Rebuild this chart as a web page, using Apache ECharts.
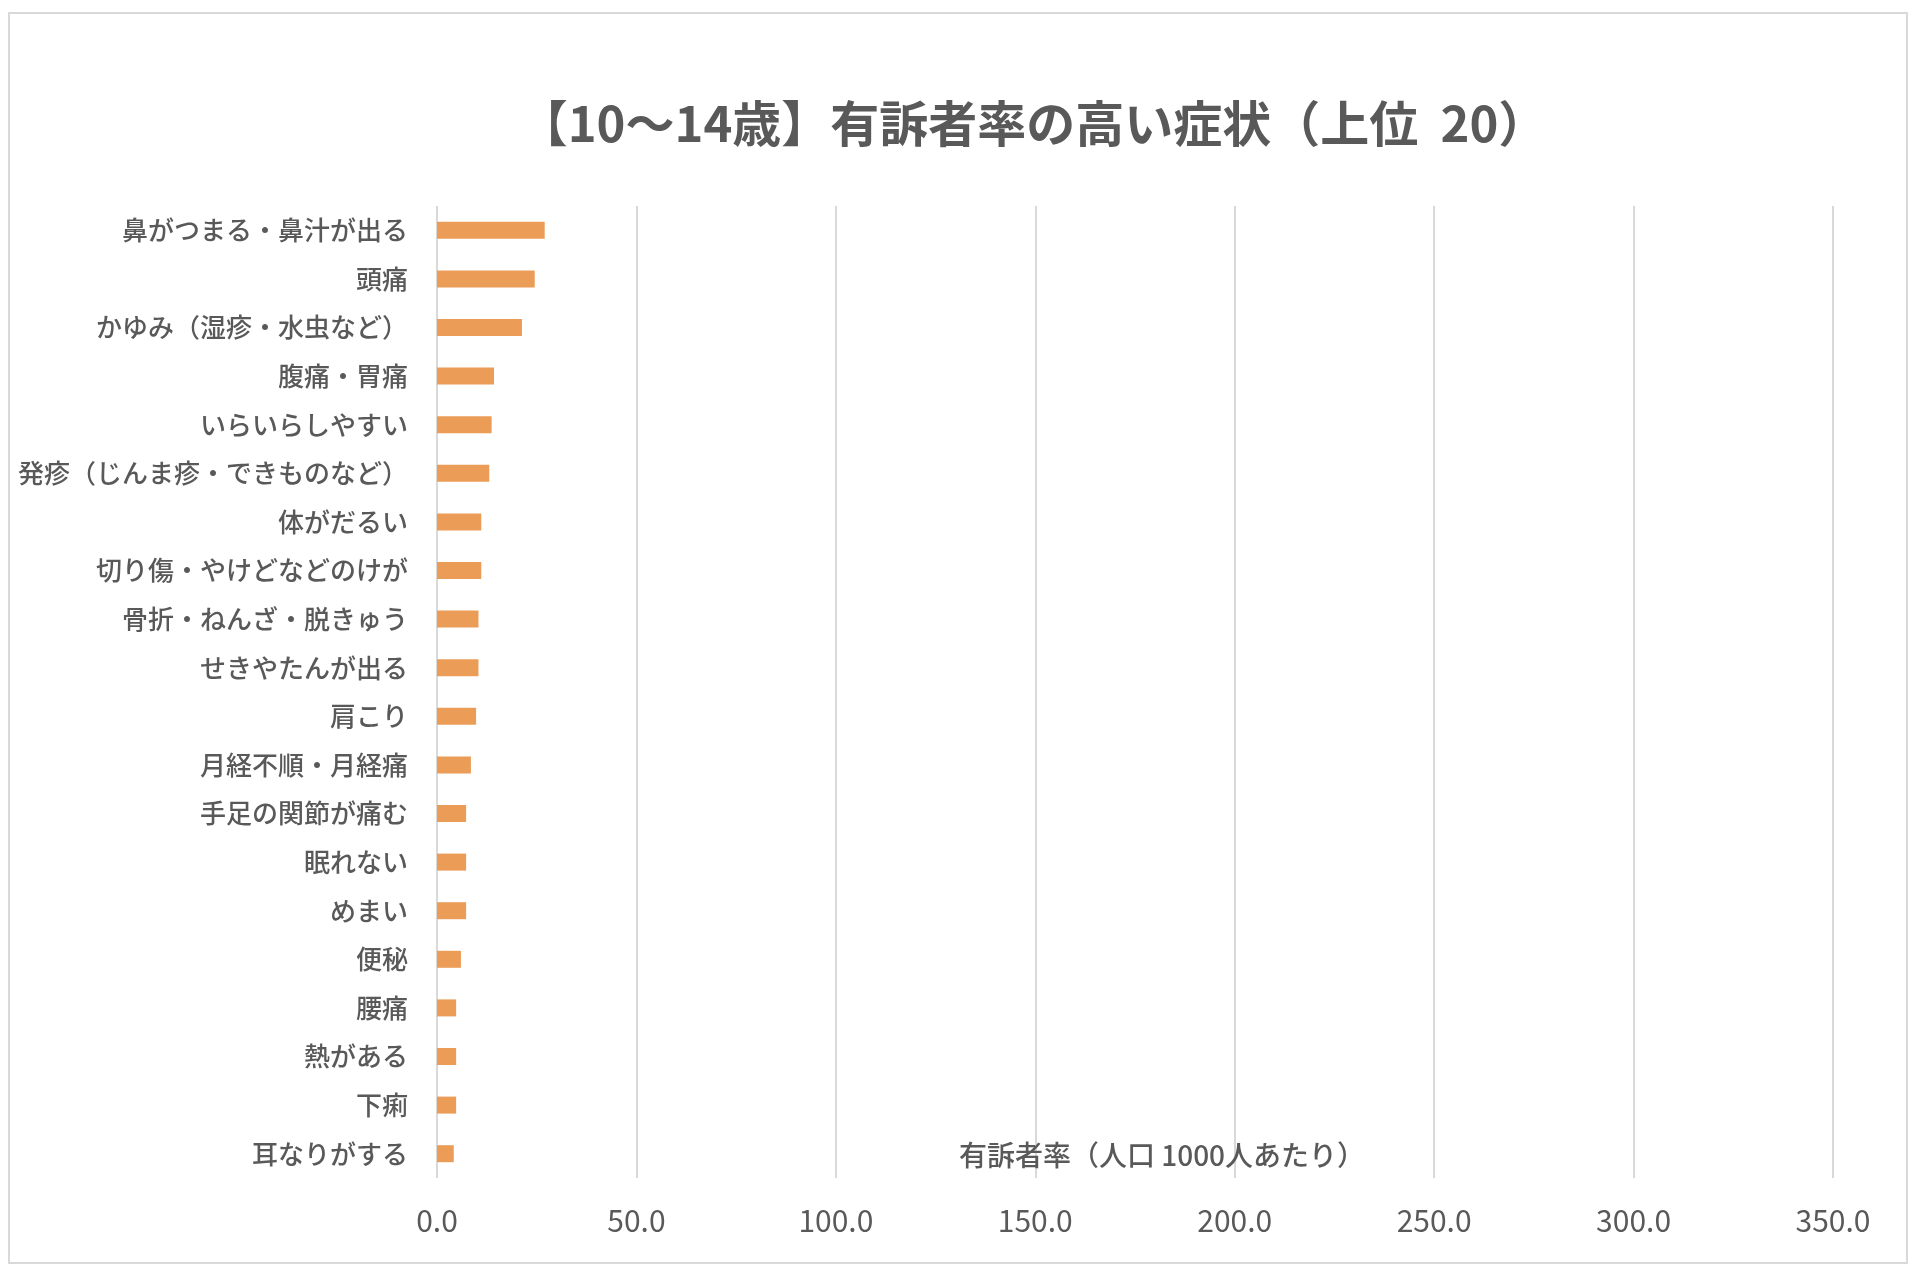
<!DOCTYPE html>
<html>
<head>
<meta charset="utf-8">
<script src="https://cdn.jsdelivr.net/npm/echarts@6/dist/echarts.min.js"></script>
<style>
  html, body { margin: 0; padding: 0; background: #fff; }
  #chart { width: 1920px; height: 1277px; }
</style>
</head>
<body>
<div id="chart"></div>
<script>
// 症状（上位20）
var symptoms = [
  '鼻がつまる・鼻汁が出る', '頭痛', 'かゆみ（湿疹・水虫など）', '腹痛・胃痛',
  'いらいらしやすい', '発疹（じんま疹・できものなど）', '体がだるい',
  '切り傷・やけどなどのけが', '骨折・ねんざ・脱きゅう', 'せきやたんが出る',
  '肩こり', '月経不順・月経痛', '手足の関節が痛む', '眠れない', 'めまい',
  '便秘', '腰痛', '熱がある', '下痢', '耳なりがする'
];
// 有訴者率（人口1000人あたり）
var rates = [
  27.0, 24.5, 21.3, 14.3, 13.7, 13.1, 11.1, 11.1, 10.4, 10.4,
  9.8, 8.5, 7.3, 7.3, 7.3, 6.0, 4.8, 4.8, 4.8, 4.2
];
var xTicks = [0, 50, 100, 150, 200, 250, 300, 350];

var font = '"Noto Sans CJK JP", "Noto Sans", sans-serif';
var chart = echarts.init(document.getElementById('chart'));

var option = {
  backgroundColor: '#fff',
  textStyle: { fontFamily: font },
  // 枠線
  graphic: [{
    type: 'rect',
    shape: { x: 9, y: 13, width: 1898, height: 1250 },
    style: { fill: 'none', stroke: '#d9d9d9', lineWidth: 2 },
    silent: true
  }],
  title: [{
    text: '【10～14歳】有訴者率の高い症状（上位  20）',
    left: 1028,
    top: 94,
    textAlign: 'center',
    textStyle: { fontSize: 49, fontWeight: 'bold', color: '#595959', fontFamily: font }
  }, {
    // 軸タイトル（プロット内に表示）
    text: '有訴者率（人口 1000人あたり）',
    left: 1157,
    top: 1136,
    textAlign: 'center',
    textStyle: { fontSize: 28, fontWeight: 500, color: '#595959', fontFamily: font }
  }],
  grid: { left: 437, right: 87, top: 206, bottom: 99 },
  xAxis: {
    type: 'value',
    min: xTicks[0],
    max: xTicks[xTicks.length - 1],
    interval: 50,
    axisLine: { show: false },
    axisTick: { show: false },
    axisLabel: {
      fontSize: 30, color: '#595959', margin: 28, fontFamily: font,
      formatter: function (v) { return v.toFixed(1); }
    },
    splitLine: { lineStyle: { color: '#d9d9d9', width: 2 } }
  },
  yAxis: {
    type: 'category',
    inverse: true,
    data: symptoms,
    axisLine: { show: false },
    axisTick: { show: false },
    axisLabel: { fontSize: 26, fontWeight: 500, color: '#595959', margin: 29, fontFamily: font }
  },
  series: [{
    name: '有訴者率',
    type: 'bar',
    data: rates,
    barWidth: 17,
    itemStyle: { color: '#EB9C57' }
  }]
};
chart.setOption(option);
</script>
</body>
</html>
